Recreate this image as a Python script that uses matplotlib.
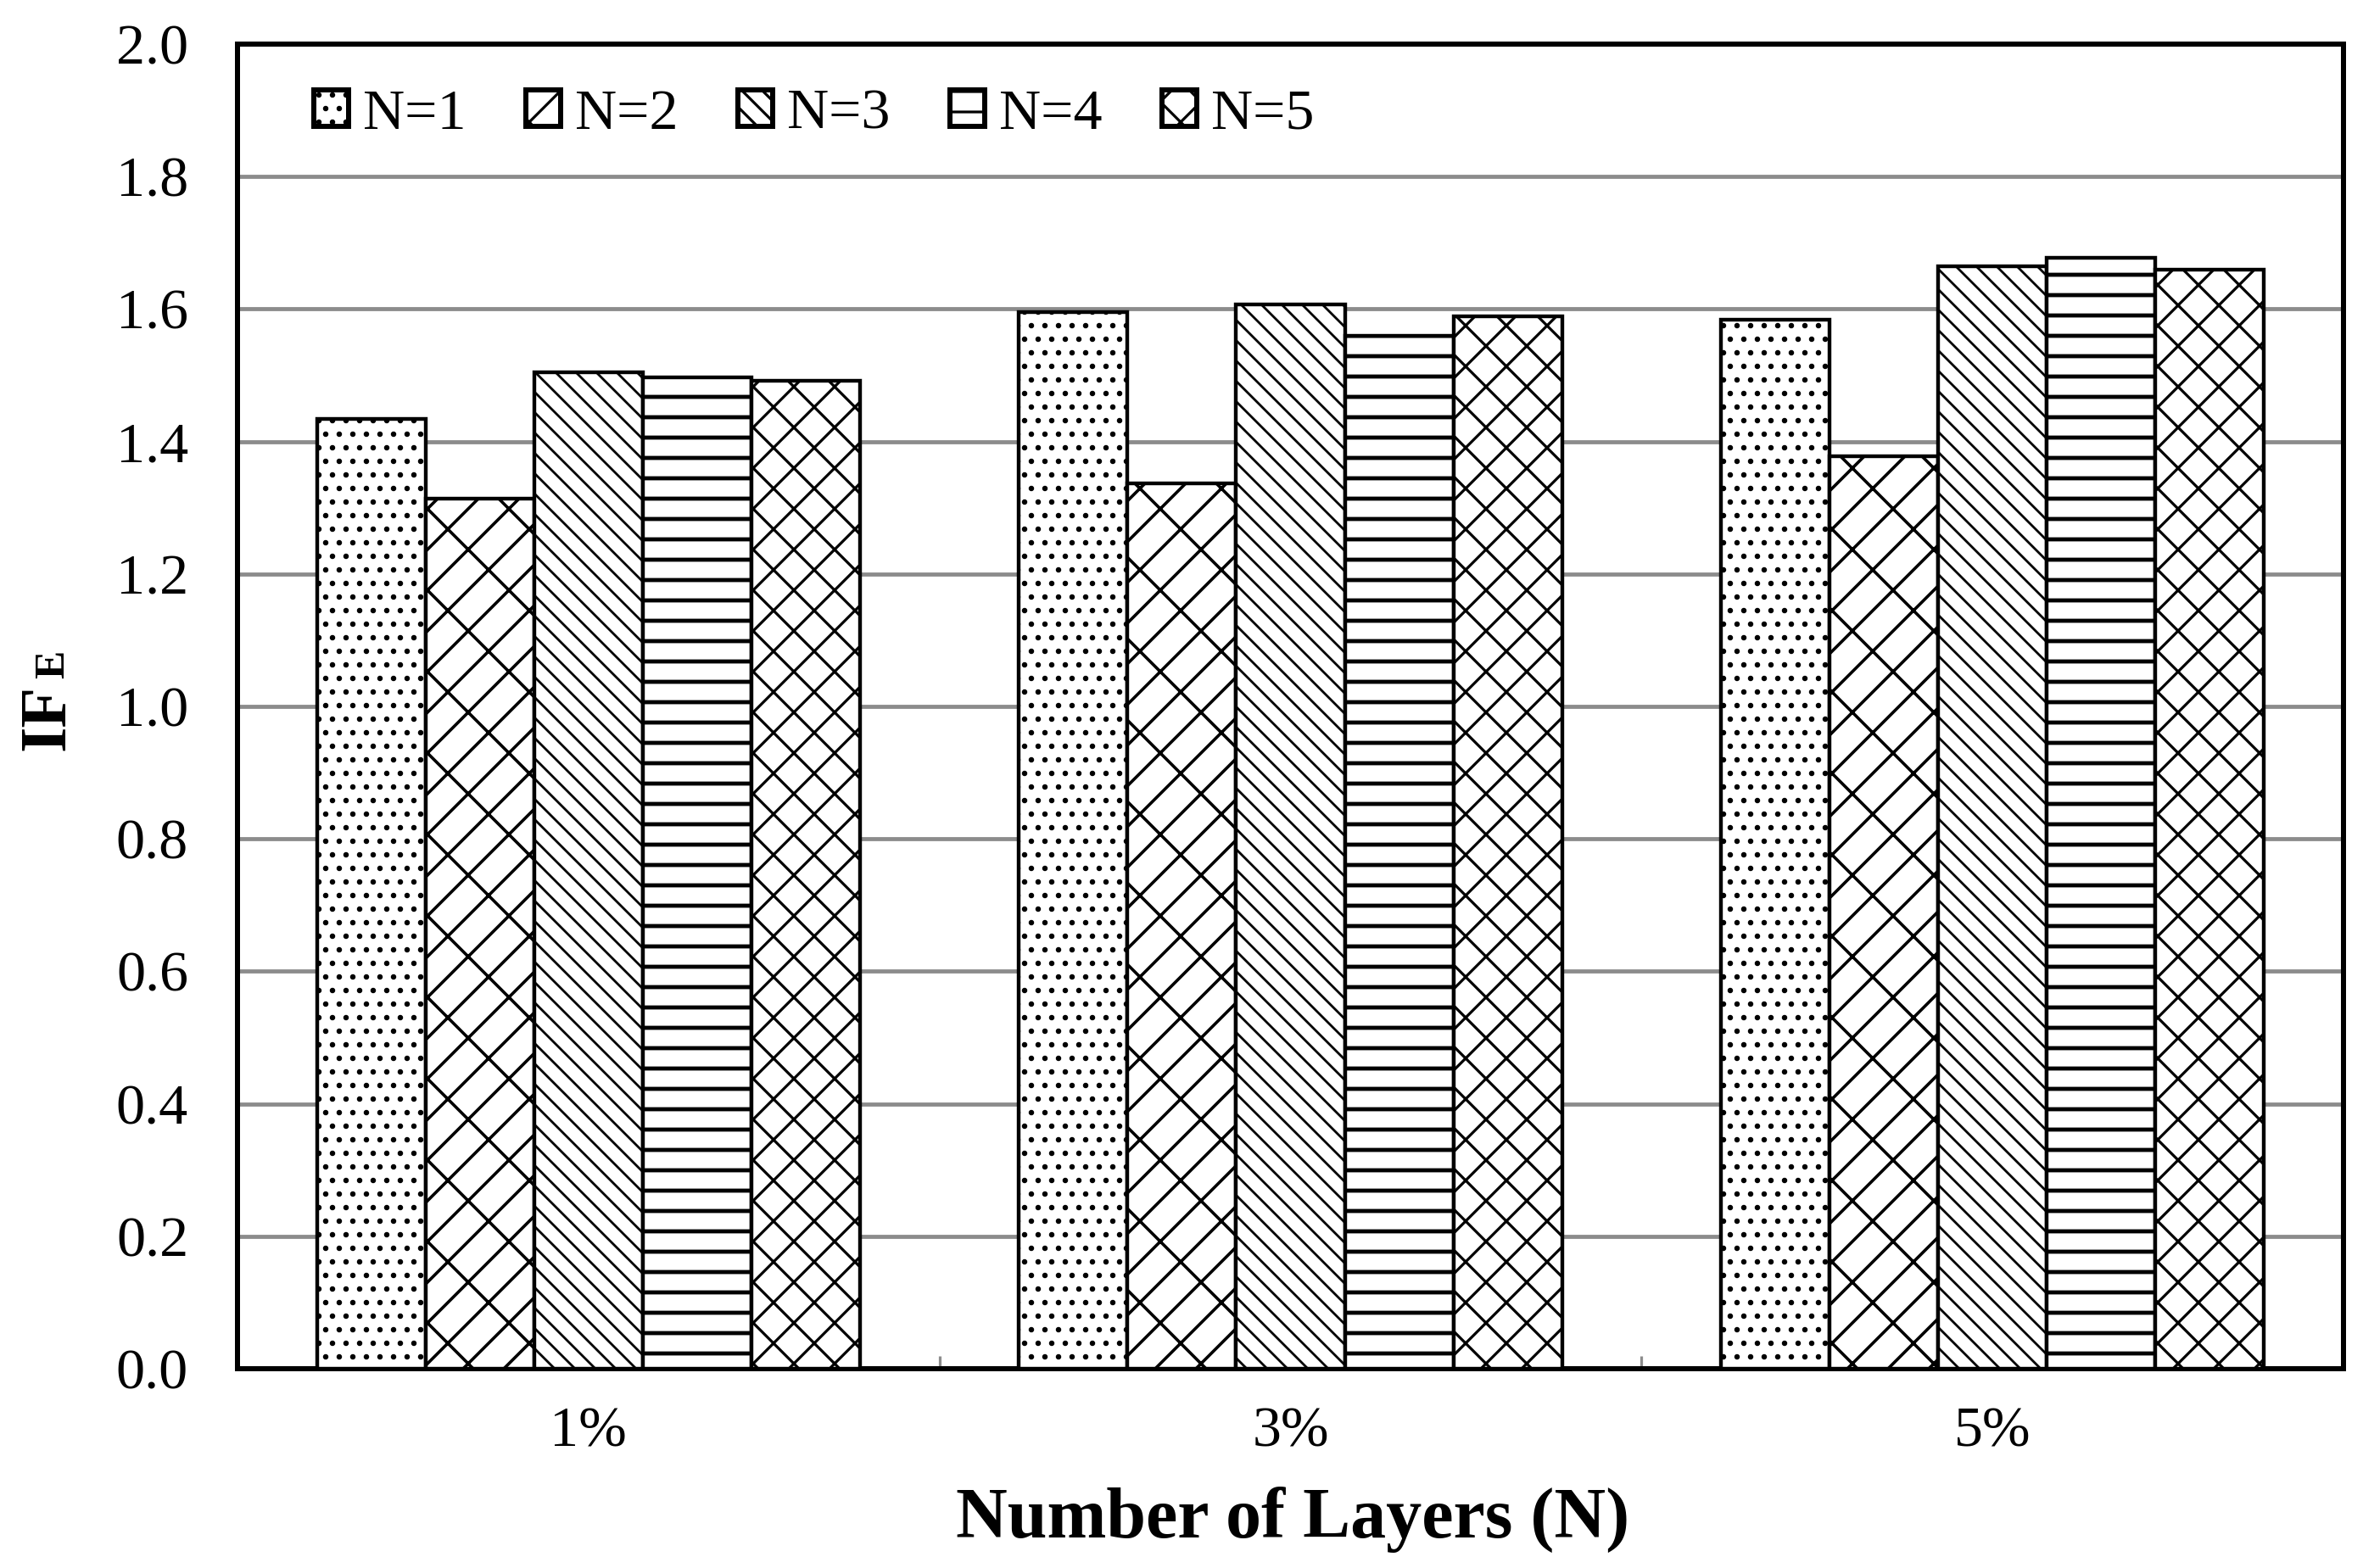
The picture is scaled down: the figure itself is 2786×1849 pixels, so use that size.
"""
IF_E por número de camadas: barras agrupadas com hachuras, estilo Excel P&B.
"""

import numpy as np
import matplotlib
matplotlib.use('Agg')
import matplotlib.pyplot as plt
from matplotlib.ticker import FixedLocator

# ---- dados ----
CATEGORIES = ['1%', '3%', '5%']
SERIES_NAMES = ['N=1', 'N=2', 'N=3', 'N=4', 'N=5']
n1 = [1.434, 1.596, 1.584]
n2 = [1.314, 1.337, 1.378]
n3 = [1.504, 1.607, 1.665]
n4 = [1.497, 1.560, 1.677]
n5 = [1.492, 1.589, 1.659]
Y_TICKS = [0.0, 0.2, 0.4, 0.6, 0.8, 1.0, 1.2, 1.4, 1.6, 1.8, 2.0]

# hachuras diagonais no mpl saem com metade da densidade, por isso repetidas
HATCHES = ['...', '//\\', '\\\\\\\\', '--', 'xx']
HATCH_LW = [0.8, 0.9, 0.7, 1.2, 0.8]

DPI = 288
W, H = 2786, 1849

plt.rcParams['font.family'] = ['Liberation Serif', 'DejaVu Serif']
plt.rcParams['hatch.linewidth'] = 0.8
plt.rcParams['hatch.color'] = 'black'

fig = plt.figure(figsize=(W / DPI, H / DPI), dpi=DPI)
ax = fig.add_axes([280 / W, 1 - 1614 / H, (2763 - 280) / W, (1614 - 52) / H])

series = [n1, n2, n3, n4, n5]
x = np.arange(len(CATEGORIES))
bar_w = 0.1547
for i, (vals, name, hatch) in enumerate(zip(series, SERIES_NAMES, HATCHES)):
    offset = (i - 2) * bar_w
    bars = ax.bar(x + offset, vals, width=bar_w, color='white', edgecolor='black',
                  linewidth=1.1, hatch=hatch, label=name, zorder=3)
    for b in bars:
        if hasattr(b, 'set_hatch_linewidth'):
            b.set_hatch_linewidth(HATCH_LW[i])

ax.set_xlim(-0.5, 2.5)
ax.set_ylim(0, 2.0)
ax.set_yticks(Y_TICKS)
ax.set_yticklabels([f'{v:.1f}' for v in Y_TICKS])
ax.set_xticks(x)
ax.set_xticklabels(CATEGORIES)
ax.xaxis.set_minor_locator(FixedLocator([0.5, 1.5]))

ax.tick_params(axis='both', which='major', length=0, labelsize=17)
ax.tick_params(axis='y', pad=14.5)
ax.tick_params(axis='x', pad=11)
ax.tick_params(axis='x', which='minor', direction='in', length=3.8,
               width=0.8, color='#8c8c8c')

ax.yaxis.grid(True, color='#8c8c8c', linewidth=1.2)
ax.set_axisbelow(True)
for s in ax.spines.values():
    s.set_color('black')
    s.set_linewidth(1.5)

# legenda em uma linha, sem moldura
leg = ax.legend(loc='center left', bbox_to_anchor=(370 / W, 1 - 135 / H),
                bbox_transform=fig.transFigure, ncol=5, frameon=False,
                fontsize=17, handlelength=0.6, handleheight=0.6,
                handletextpad=0.25, columnspacing=1.04, borderpad=0,
                borderaxespad=0)
for h in leg.legend_handles:
    h.set_linewidth(1.5)

# rótulos dos eixos
fig.text(1524 / W, 1 - 1813 / H, 'Number of Layers (N)', ha='center',
         va='baseline', fontsize=21, fontweight='bold')
fig.text(92 / W, 1 - 885 / H, 'IF', rotation=90, ha='right', va='bottom',
         fontsize=19.5, fontweight='bold')
fig.text(86 / W, 1 - 800 / H, 'E', rotation=90, ha='right', va='bottom',
         fontsize=12.5, fontweight='bold')

fig.savefig('out.png', dpi=DPI)
